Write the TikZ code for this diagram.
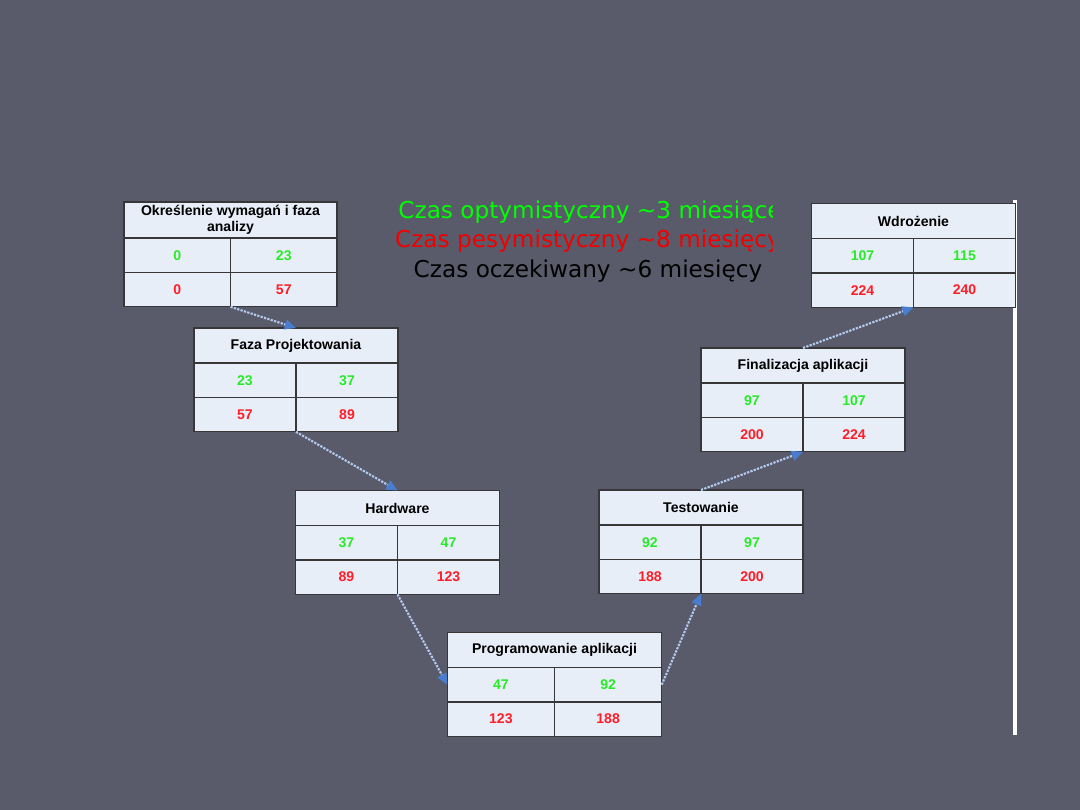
\documentclass[tikz,border=0pt]{standalone}
\usepackage{fontspec}
\setmainfont{Liberation Sans}
\newfontfamily\dejavu{DejaVu Sans}
\usetikzlibrary{positioning,arrows.meta}

\definecolor{slate}{RGB}{89,91,106}
\definecolor{boxfill}{RGB}{232,238,248}
\definecolor{framegray}{RGB}{55,55,58}
\definecolor{optgreen}{RGB}{40,235,40}
\definecolor{pesred}{RGB}{255,30,40}
\definecolor{flowline}{RGB}{180,202,238}
\definecolor{flowtip}{RGB}{72,125,210}

\begin{document}
\begin{tikzpicture}[
	x = 0.025cm, y = -0.025cm, % one unit = one pixel of the slide
	> = {Triangle[length=8pt,width=7pt,color=flowtip]}, % arrow head style
	node distance = 0pt, % cells touch each other
	font = \bfseries\fontsize{10}{11.5}\selectfont
	]
	
	\tikzstyle{title}=[
	draw = framegray,
	fill = boxfill,
	line width = 0.9pt,
	outer sep = 0pt,
	minimum width = 5.1cm,
	minimum height = 0.875cm,
	inner sep = 1pt,
	align = center
	]
	\tikzstyle{cell}=[title, minimum width = 2.55cm, minimum height = 0.86cm]
	\tikzstyle{opt}=[cell, text = optgreen]
	\tikzstyle{pes}=[cell, text = pesred]
	\tikzstyle{flow}=[color = flowline, line width = 1.5pt, dash pattern = on 1.6pt off 0.9pt, ->]
	\tikzstyle{estimate}=[font = \dejavu\mdseries\fontsize{16.5}{19}\selectfont, inner sep = 0pt]
	
	% slide background
	\fill[slate] (0,0) rectangle (1080,810);
	\useasboundingbox (0,0) rectangle (1080,810);
	\draw[white, line width = 2.2pt] (1015,200) -- (1015,735);
	
	% estimates
	\begin{scope}
		\clip (380,190) rectangle (772,292);
		\node[estimate, text = green] (optym) at (590,212) {Czas optymistyczny \textasciitilde 3 miesiące};
		\node[estimate, text = red!95!black] (pesym) at (588,241) {Czas pesymistyczny \textasciitilde 8 miesięcy};
		\node[estimate, text = black] (oczek) at (588,271) {Czas oczekiwany \textasciitilde 6 miesięcy};
	\end{scope}
	
	\node[title, minimum width = 5.33cm, minimum height = 0.9cm] (wymT) at (230.5,220) {Określenie wymagań i faza\\analizy};
	\node[opt, minimum width = 2.665cm] (wymA) [below right = 0pt and 0pt of wymT.south west] {0};
	\node[opt, minimum width = 2.665cm] (wymB) [right = of wymA] {23};
	\node[pes, minimum width = 2.665cm] (wymC) [below = of wymA] {0};
	\node[pes, minimum width = 2.665cm] (wymD) [right = of wymC] {57};
	
	\node[title] (fazaT) at (296,345.5) {Faza Projektowania};
	\node[opt] (fazaA) [below right = 0pt and 0pt of fazaT.south west] {23};
	\node[opt] (fazaB) [right = of fazaA] {37};
	\node[pes] (fazaC) [below = of fazaA] {57};
	\node[pes] (fazaD) [right = of fazaC] {89};
	
	\node[title] (hwT) at (397.5,508) {Hardware};
	\node[opt] (hwA) [below right = 0pt and 0pt of hwT.south west] {37};
	\node[opt] (hwB) [right = of hwA] {47};
	\node[pes] (hwC) [below = of hwA] {89};
	\node[pes] (hwD) [right = of hwC] {123};
	
	\node[title, minimum width = 5.36cm] (progT) at (554.5,650) {Programowanie aplikacji};
	\node[opt, minimum width = 2.68cm] (progA) [below right = 0pt and 0pt of progT.south west] {47};
	\node[opt, minimum width = 2.68cm] (progB) [right = of progA] {92};
	\node[pes, minimum width = 2.68cm] (progC) [below = of progA] {123};
	\node[pes, minimum width = 2.68cm] (progD) [right = of progC] {188};
	
	\node[title] (testT) at (701,507.5) {Testowanie};
	\node[opt] (testA) [below right = 0pt and 0pt of testT.south west] {92};
	\node[opt] (testB) [right = of testA] {97};
	\node[pes] (testC) [below = of testA] {188};
	\node[pes] (testD) [right = of testC] {200};
	
	\node[title] (finT) at (803,365.5) {Finalizacja aplikacji};
	\node[opt] (finA) [below right = 0pt and 0pt of finT.south west] {97};
	\node[opt] (finB) [right = of finA] {107};
	\node[pes] (finC) [below = of finA] {200};
	\node[pes] (finD) [right = of finC] {224};
	
	\node[title] (wdrT) at (913.5,221) {Wdrożenie};
	\node[opt] (wdrA) [below right = 0pt and 0pt of wdrT.south west] {107};
	\node[opt] (wdrB) [right = of wdrA] {115};
	\node[pes] (wdrC) [below = of wdrA] {224};
	\node[pes] (wdrD) [right = of wdrC] {240};
	
	\path[flow]
	(wymC.south east) 	edge (fazaT.north)
	(fazaC.south east) 	edge (hwT.north)
	(hwC.south east) 	edge (progA.west)
	(progB.east) 		edge (testC.south east)
	(testT.north) 		edge (finC.south east)
	(finT.north) 		edge (wdrC.south east);
	
\end{tikzpicture}
\end{document}
